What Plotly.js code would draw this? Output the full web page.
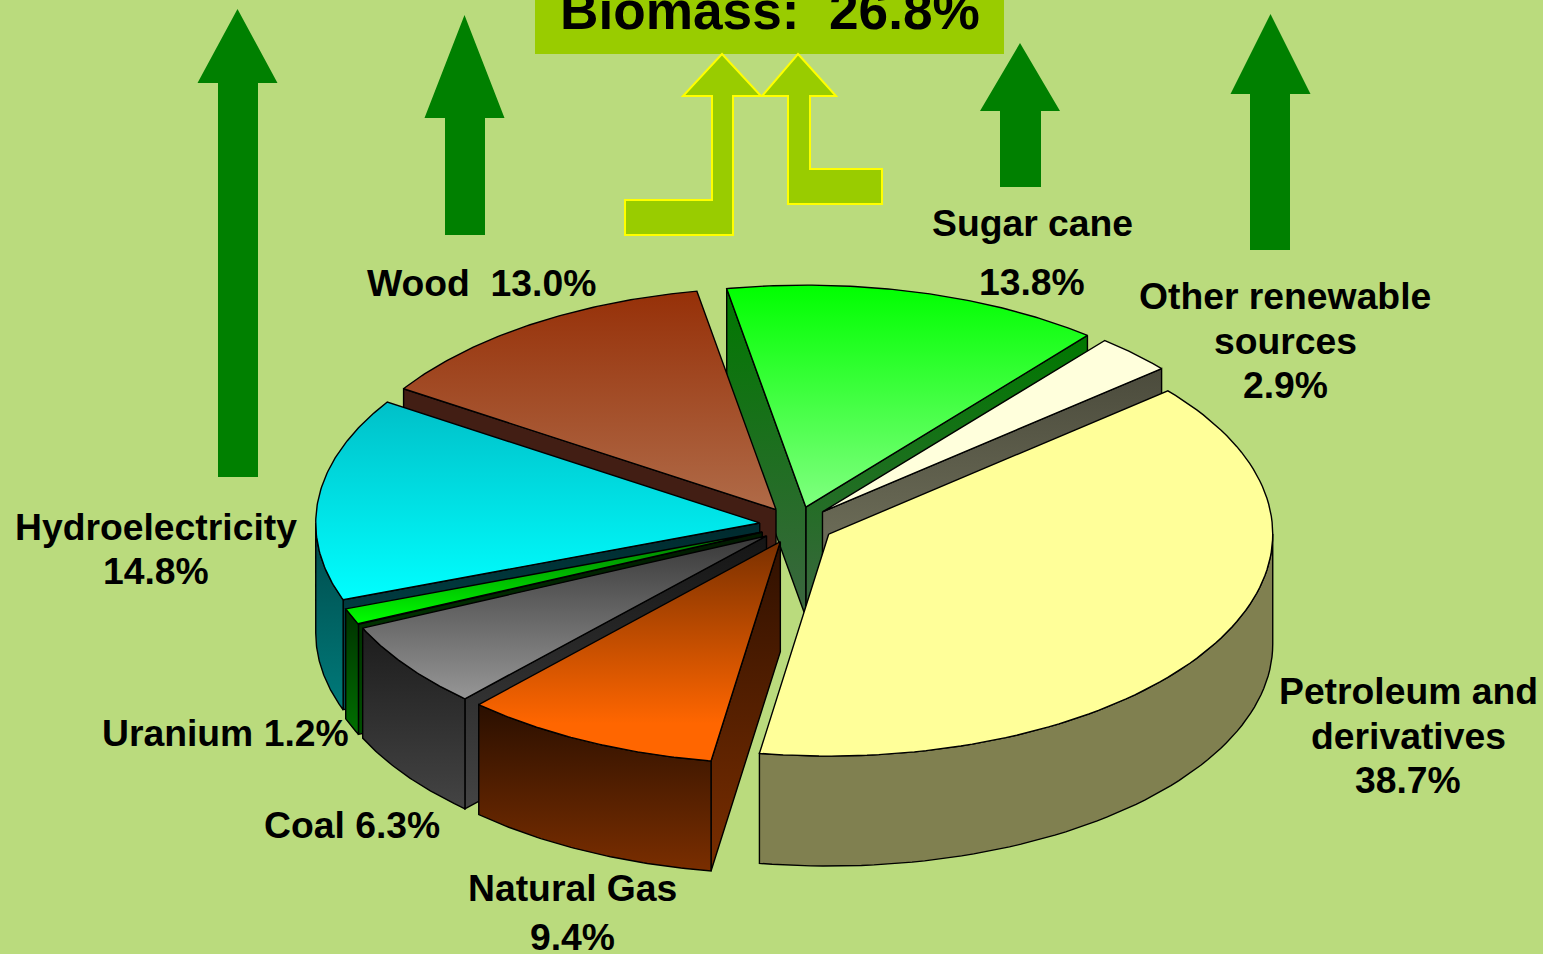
<!DOCTYPE html>
<html>
<head>
<meta charset="utf-8">
<script src="https://cdn.plot.ly/plotly-3.0.1.min.js"></script>
<style>html,body{margin:0;padding:0;overflow:hidden;background:#BADB7D}#chart{width:1543px;height:954px}</style>
</head>
<body>
<div id="chart"></div>
<script>
// ---- data ----
const categories = ["Petroleum and derivatives","Natural Gas","Coal","Uranium","Hydroelectricity","Wood","Sugar cane","Other renewable sources"];
const shares = [38.7, 9.4, 6.3, 1.2, 14.8, 13.0, 13.8, 2.9];
const biomassShare = 26.8;

// ---- pie style & projection ----
const topColors   = [["#FFFF99","#FFFF99"],["#7A3000","#FF6600",0.17],["#383838","#969696"],["#007800","#00FF00"],["#00C0C8","#00FFFF"],["#963008","#B06B48"],["#00FF00","#80FF80"],["#FFFFDC","#FFFFDC"]];
const outerColors = [["#808050","#808050"],["#2A0F00","#7A2E00"],["#1C1C1C","#444444"],["#003000","#007000"],["#004A4A","#007A7A"],["#421E14","#421E14"],["#007800","#3C6640"],["#4B4B3C","#7B7B64"]];
const radialColors= [["#808050","#808050"],["#2F1000","#7A2E00"],["#151515","#444444"],["#001800","#005000"],["#002A2E","#005056"],["#421E14","#421E14"],["#007800","#3C6640"],["#4B4B3C","#7B7B64"]];
const paintOrder = [6, 7, 5, 4, 3, 2, 1, 0];
const cx = 796.5, cy = 525, rx = 444, ry = 222, depth = 110, explode = 37, startDeg = 49.8;

const rad = d => d * Math.PI / 180;
const total = shares.reduce((a, b) => a + b, 0);
const traces = [];

function poly(xs, ys, colors) {
  const t = {type:"scatter", mode:"lines", x:[...xs, xs[0]], y:[...ys, ys[0]], fill:"toself",
             line:{color:"#000", width:1.4}, hoverinfo:"skip", showlegend:false};
  if (colors[0] === colors[1]) t.fillcolor = colors[0];
  else {
    const hold = colors[2] || 0;
    const scale = hold ? [[0,colors[1]],[hold,colors[1]],[1,colors[0]]] : [[0,colors[1]],[1,colors[0]]];
    t.fillgradient = {type:"vertical", colorscale:scale};
  }
  traces.push(t);
}

let acc = startDeg;
const wedges = shares.map(v => {
  const a0 = acc, a1 = acc + v / total * 360; acc = a1;
  const mid = (a0 + a1) / 2;
  return {a0, a1, ax: cx + explode * Math.sin(rad(mid)), ay: cy - explode * 0.5 * Math.cos(rad(mid))};
});

paintOrder.forEach(i => {
  const w = wedges[i];
  const px = d => w.ax + rx * Math.sin(rad(d));
  const py = d => w.ay - ry * Math.cos(rad(d));
  const radial = d => poly([w.ax, px(d), px(d), w.ax], [w.ay, py(d), py(d)+depth, w.ay+depth], radialColors[i]);
  if (Math.cos(rad(w.a1 + 90)) < 0) radial(w.a1);
  if (Math.cos(rad(w.a0 - 90)) < 0) radial(w.a0);
  const lo = Math.max(w.a0, 90), hi = Math.min(w.a1, 270);
  if (hi > lo) {
    const xs = [], ys = [];
    for (let k = 0; k <= 60; k++) { const d = lo + (hi-lo)*k/60; xs.push(px(d)); ys.push(py(d)); }
    for (let k = 60; k >= 0; k--) { const d = lo + (hi-lo)*k/60; xs.push(px(d)); ys.push(py(d)+depth); }
    poly(xs, ys, outerColors[i]);
  }
  const xs = [w.ax], ys = [w.ay];
  for (let k = 0; k <= 90; k++) { const d = w.a0 + (w.a1-w.a0)*k/90; xs.push(px(d)); ys.push(py(d)); }
  poly(xs, ys, topColors[i]);
});

// ---- decoration ----
const green = "#008000", lime = "#99CC00";
function arrow(tip, x0, x1, sx0, sx1, base, end) {
  return {type:"path", xref:"x", yref:"y", fillcolor:green, line:{width:0}, layer:"below",
    path:`M${(x0+x1)/2},${tip}L${x1},${base}L${sx1},${base}L${sx1},${end}L${sx0},${end}L${sx0},${base}L${x0},${base}Z`};
}
const shapes = [
  arrow(9, 197.5, 277.5, 218, 258, 83, 477),
  arrow(15, 424.5, 504.5, 445, 485, 118, 235),
  arrow(43, 980, 1060, 1000, 1041, 111, 187),
  arrow(14, 1230.5, 1310.5, 1250, 1290, 94, 250),
  {type:"rect", xref:"x", yref:"y", x0:535, x1:1004, y0:0, y1:54, fillcolor:lime, line:{width:0}, layer:"below"},
  {type:"path", xref:"x", yref:"y", fillcolor:lime, line:{color:"#FFFF00", width:2}, layer:"below",
   path:"M722,54L761,96L733,96L733,235L625,235L625,200L712,200L712,96L683,96Z"},
  {type:"path", xref:"x", yref:"y", fillcolor:lime, line:{color:"#FFFF00", width:2}, layer:"below",
   path:"M798,54L836,96L810,96L810,169L882,169L882,204L788,204L788,96L762,96Z"}
];

const FS = 37.3;
const fmt = i => shares[i].toFixed(1) + "%";
const note = (text, x, y, size) => ({text, x, y, xref:"x", yref:"y", showarrow:false, xanchor:"center", yanchor:"middle",
  font:{family:"Liberation Sans, Arial, sans-serif", size:size||FS, color:"#000", weight:700}});
const annotations = [
  note("Biomass:\u00A0\u00A0" + biomassShare.toFixed(1) + "%", 769.5, 10, 53.2),
  note("Wood\u00A0\u00A0" + fmt(5), 481, 283),
  note(categories[6], 1032, 223),
  note(fmt(6), 1032, 281.5),
  note("Other renewable", 1285, 296),
  note("sources", 1285, 340.5),
  note(fmt(7), 1285, 385),
  note("Petroleum and", 1408, 691),
  note("derivatives", 1408, 736),
  note(fmt(0), 1408, 780),
  note(categories[4], 156, 527),
  note(fmt(4), 156, 571),
  note(categories[3] + " " + fmt(3), 225, 733),
  note(categories[2] + " " + fmt(2), 352, 825),
  note(categories[1], 572, 888),
  note(fmt(1), 572, 937),
  Object.assign(note("Source", 1436, 946, 30), {xanchor:"left", yanchor:"top"})
];

Plotly.newPlot("chart", traces, {
  width:1543, height:954, margin:{l:0,r:0,t:0,b:0},
  paper_bgcolor:"#BADB7D", plot_bgcolor:"#BADB7D", showlegend:false,
  xaxis:{range:[0,1543], visible:false, fixedrange:true},
  yaxis:{range:[954,0], visible:false, fixedrange:true},
  shapes, annotations
}, {displayModeBar:false, staticPlot:true});
</script>
</body>
</html>
